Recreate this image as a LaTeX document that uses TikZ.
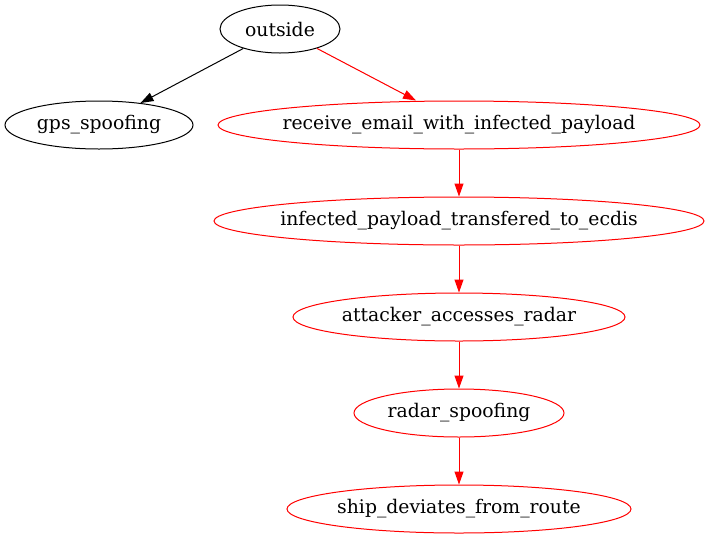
\documentclass[tikz,border=0pt]{standalone}
\usepackage{fontspec}
\setmainfont{DejaVu Serif}
\usetikzlibrary{positioning}
\usetikzlibrary{shapes.geometric}
\usetikzlibrary{arrows.meta}
\tikzset{
  state/.style={ellipse,draw=black,inner ysep=0pt,inner xsep=-40pt,
                minimum height=48pt,line width=1pt,
                font=\fontsize{18.8}{22}\selectfont},
  hot/.style={state,draw=red},
  edge/.style={-{Triangle[length=13pt,width=9pt]},line width=1pt},
  hotedge/.style={edge,draw=red,fill=red},
}
\begin{document}
\begin{tikzpicture}
    [x=1pt,y=1pt,node distance=47pt]
  \useasboundingbox (0,0) rectangle (710,-539);
  % states
  \node[state,minimum width=120pt,inner xsep=0pt] (outside) at (280,-29) {outside};
  \node[state,minimum width=188pt] (gps)     at (99,-125)  {gps\_spoofing};
  \node[hot,minimum width=482pt]   (email)   at (459,-125) {receive\_email\_with\_infected\_payload};
  \node[hot,minimum width=490pt]   (ecdis)   [below=of email]  {infected\_payload\_transfered\_to\_ecdis};
  \node[hot,minimum width=332pt]   (access)  [below=of ecdis]  {attacker\_accesses\_radar};
  \node[hot,minimum width=210pt]   (radar)   [below=of access] {radar\_spoofing};
  \node[hot,minimum width=344pt]   (ship)    [below=of radar]  {ship\_deviates\_from\_route};

  % attack steps
  \draw[edge] (outside) -- (gps);
  \draw[hotedge] (outside) -- (email.north -| 416,0);
  \draw[hotedge] (email) -- (ecdis);
  \draw[hotedge] (ecdis) -- (access);
  \draw[hotedge] (access) -- (radar);
  \draw[hotedge] (radar) -- (ship);
\end{tikzpicture}
\end{document}
